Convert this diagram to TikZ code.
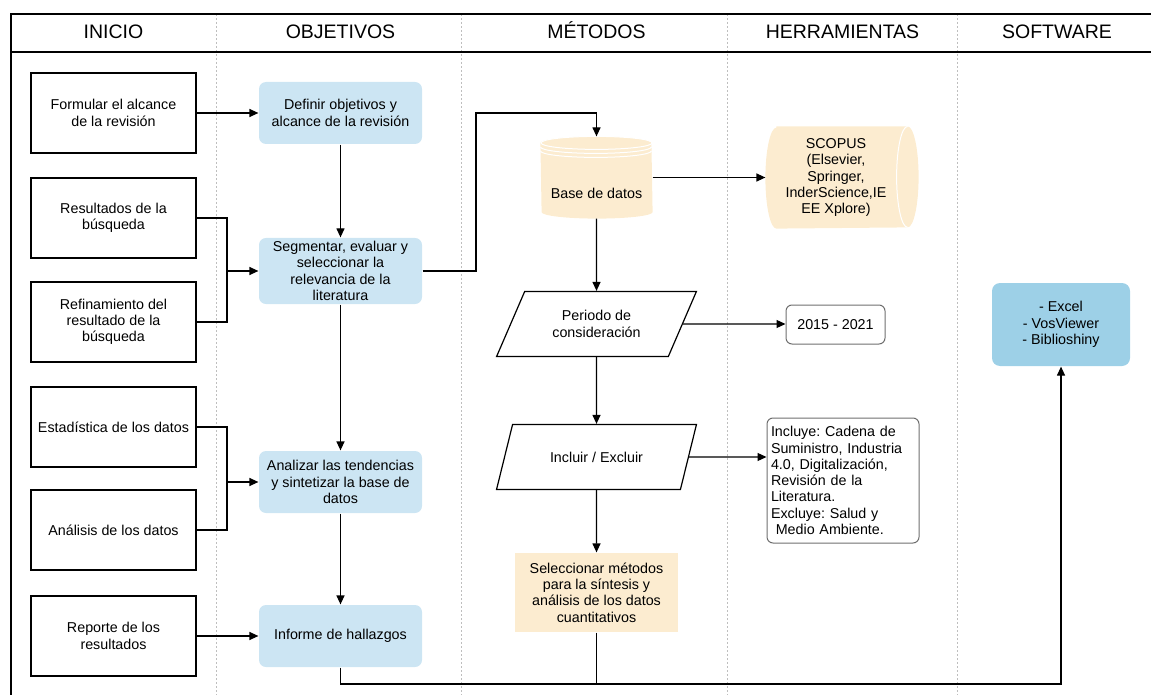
\documentclass[tikz,border=0pt]{standalone}
\usepackage{fontspec}
\setmainfont{Liberation Sans}
\usetikzlibrary{arrows.meta,positioning,shapes.geometric}
\definecolor{objblue}{RGB}{204,229,243}
\definecolor{swblue}{RGB}{157,208,231}
\definecolor{beige}{RGB}{252,236,208}
\definecolor{sepgray}{RGB}{190,190,190}
\definecolor{boxgray}{RGB}{110,110,110}
\frenchspacing

\begin{document}
\begin{tikzpicture}[x=1pt,y=-1pt,on grid,
    font=\fontsize{14.3}{16.3}\selectfont,
    >={Triangle[length=9pt,width=8pt]},
    line width=1.2pt,
    inibox/.style={draw,minimum width=165pt,minimum height=80pt,align=center},
    objbox/.style={fill=objblue,rounded corners=7pt,minimum width=163pt,minimum height=62pt,align=center},
    para/.style={draw,trapezium,trapezium left angle=61,trapezium right angle=119,
      trapezium stretches=true,minimum width=200pt,minimum height=65pt,align=center},
    toolbox/.style={draw=boxgray,line width=1pt,rounded corners=6pt},
    head/.style={font=\fontsize{19.5}{22}\selectfont,anchor=base},
    sep/.style={sepgray,line width=0.7pt,dash pattern=on 2pt off 2pt}]
  \useasboundingbox (0,0) rectangle (1151,695);

  % lanes
  \foreach \x in {216,461,727,957}
    \draw[sep] (\x,14) -- (\x,695);
  \draw[line width=1.5pt] (1151,14) -- (11,14) -- (11,695);
  \draw[line width=1.5pt] (11,52) -- (1151,52);
  \foreach \x/\t [count=\n] in {113.5/INICIO,340.5/OBJETIVOS,596.5/MÉTODOS,842.5/HERRAMIENTAS,1057/SOFTWARE}
    \node[head] (hd_\n) at (\x,39) {\t};

  % inicio
  \node[inibox] (i_1) at (113.5,113) {Formular el alcance\\de la revisión};
  \node[inibox] (i_2) [below=105pt of i_1] {Resultados de la\\búsqueda};
  \node[inibox] (i_3) [below=104pt of i_2] {Refinamiento del\\resultado de la\\búsqueda};
  \node[inibox] (i_4) [below=105pt of i_3] {Estadística de los datos};
  \node[inibox] (i_5) [below=103pt of i_4] {Análisis de los datos};
  \node[inibox] (i_6) [below=106pt of i_5] {Reporte de los\\resultados};

  % objetivos
  \node[objbox] (o_1) [right=227pt of i_1] {Definir objetivos y\\alcance de la revisión};
  \node[objbox] (o_2) [below=158pt of o_1] {Segmentar, evaluar y\\seleccionar la\\relevancia de la\\literatura};
  \node[objbox] (o_3) [below=211pt of o_2] {Analizar las tendencias\\y sintetizar la base de\\datos};
  \node[objbox] (o_4) [below=154pt of o_3] {Informe de hallazgos};

  % metodos
  \node[minimum width=111pt,minimum height=81pt] (m_1) at (596.5,177.5) {};
  \fill[beige] ([yshift=-6.5pt]m_1.north west) arc[start angle=180,end angle=360,x radius=55.5,y radius=6.5]
    -- ([yshift=6.5pt]m_1.south east) arc[start angle=0,end angle=180,x radius=55.5,y radius=6.5] -- cycle;
  \draw[white,line width=1pt] ([yshift=-6.5pt]m_1.north) ellipse[x radius=55.5,y radius=6.5];
  \foreach \d in {10.5,14.5}
    \draw[white,line width=1pt] ([yshift=-\d pt]m_1.north west) arc[start angle=180,end angle=0,x radius=55.5,y radius=6.5];
  \node (m_1t) at (596.5,193) {Base de datos};
  \node[para] (m_2) [below=146.5pt of m_1] {Periodo de\\consideración};
  \node[para] (m_3) [below=133pt of m_2] {Incluir / Excluir};
  \node[fill=beige,minimum width=163pt,minimum height=79pt,align=center] (m_4) [below=135.5pt of m_3]
    {Seleccionar métodos\\para la síntesis y\\análisis de los datos\\cuantitativos};

  % herramientas
  \node[minimum width=140pt,minimum height=101pt,align=center] (h_1) at (836,177.5) {};
  \fill[beige] ([xshift=11pt]h_1.north west) -- ([xshift=1pt]h_1.north east)
    arc[start angle=270,end angle=450,x radius=11,y radius=50.5]
    -- ([xshift=11pt]h_1.south west) arc[start angle=90,end angle=270,x radius=11,y radius=50.5] -- cycle;
  \draw[white,line width=1pt] ([xshift=1pt]h_1.north east) arc[start angle=270,end angle=90,x radius=11,y radius=50.5];
  \node[align=center] (h_1t) at (836,177.5) {SCOPUS\\(Elsevier,\\Springer,\\InderScience,IE\\EE Xplore)};
  \node[toolbox,minimum width=99pt,minimum height=39pt] (h_2) at (835.5,324.5) {2015 - 2021};
  \node[toolbox,text width=144pt,inner xsep=4pt,minimum height=125pt,align=left] (h_3) at (843,480.5)
    {Incluye: Cadena de\\Suministro, Industria\\4.0, Digitalización,\\Revisión de la\\Literatura.\\Excluye: Salud y\\\ Medio Ambiente.};

  % software
  \node[fill=swblue,rounded corners=8pt,minimum width=138pt,minimum height=83pt,align=center] (s_1) at (1061,324.5)
    {- Excel\\- VosViewer\\- Biblioshiny};

  \coordinate (j_1) at (227,271);
  \coordinate (j_2) at (227,482);
  \coordinate (c_1) at (476,113);
  \coordinate (b_1) at (1061,684);

  \draw (i_2) -| (j_1) (i_3) -| (j_1);
  \draw (i_4) -| (j_2) (i_5) -| (j_2);
  \path[->]
    (i_1) edge (o_1)
    (j_1) edge (o_2)
    (j_2) edge (o_3)
    (i_6) edge (o_4)
    (o_1) edge (o_2)
    (o_2) edge (o_3)
    (o_3) edge (o_4)
    (m_1) edge (h_1)
          edge (m_2)
    (m_2) edge (m_3)
          edge (m_2.east -| h_2.west)
    (m_3) edge (m_4)
          edge (m_3.east -| h_3.west);
  \draw[->] (o_2) -| (c_1) -| (m_1);
  \draw[->] (o_4) |- (b_1) -- (s_1);
  \draw (m_4) -- (m_4 |- b_1);
\end{tikzpicture}
\end{document}
